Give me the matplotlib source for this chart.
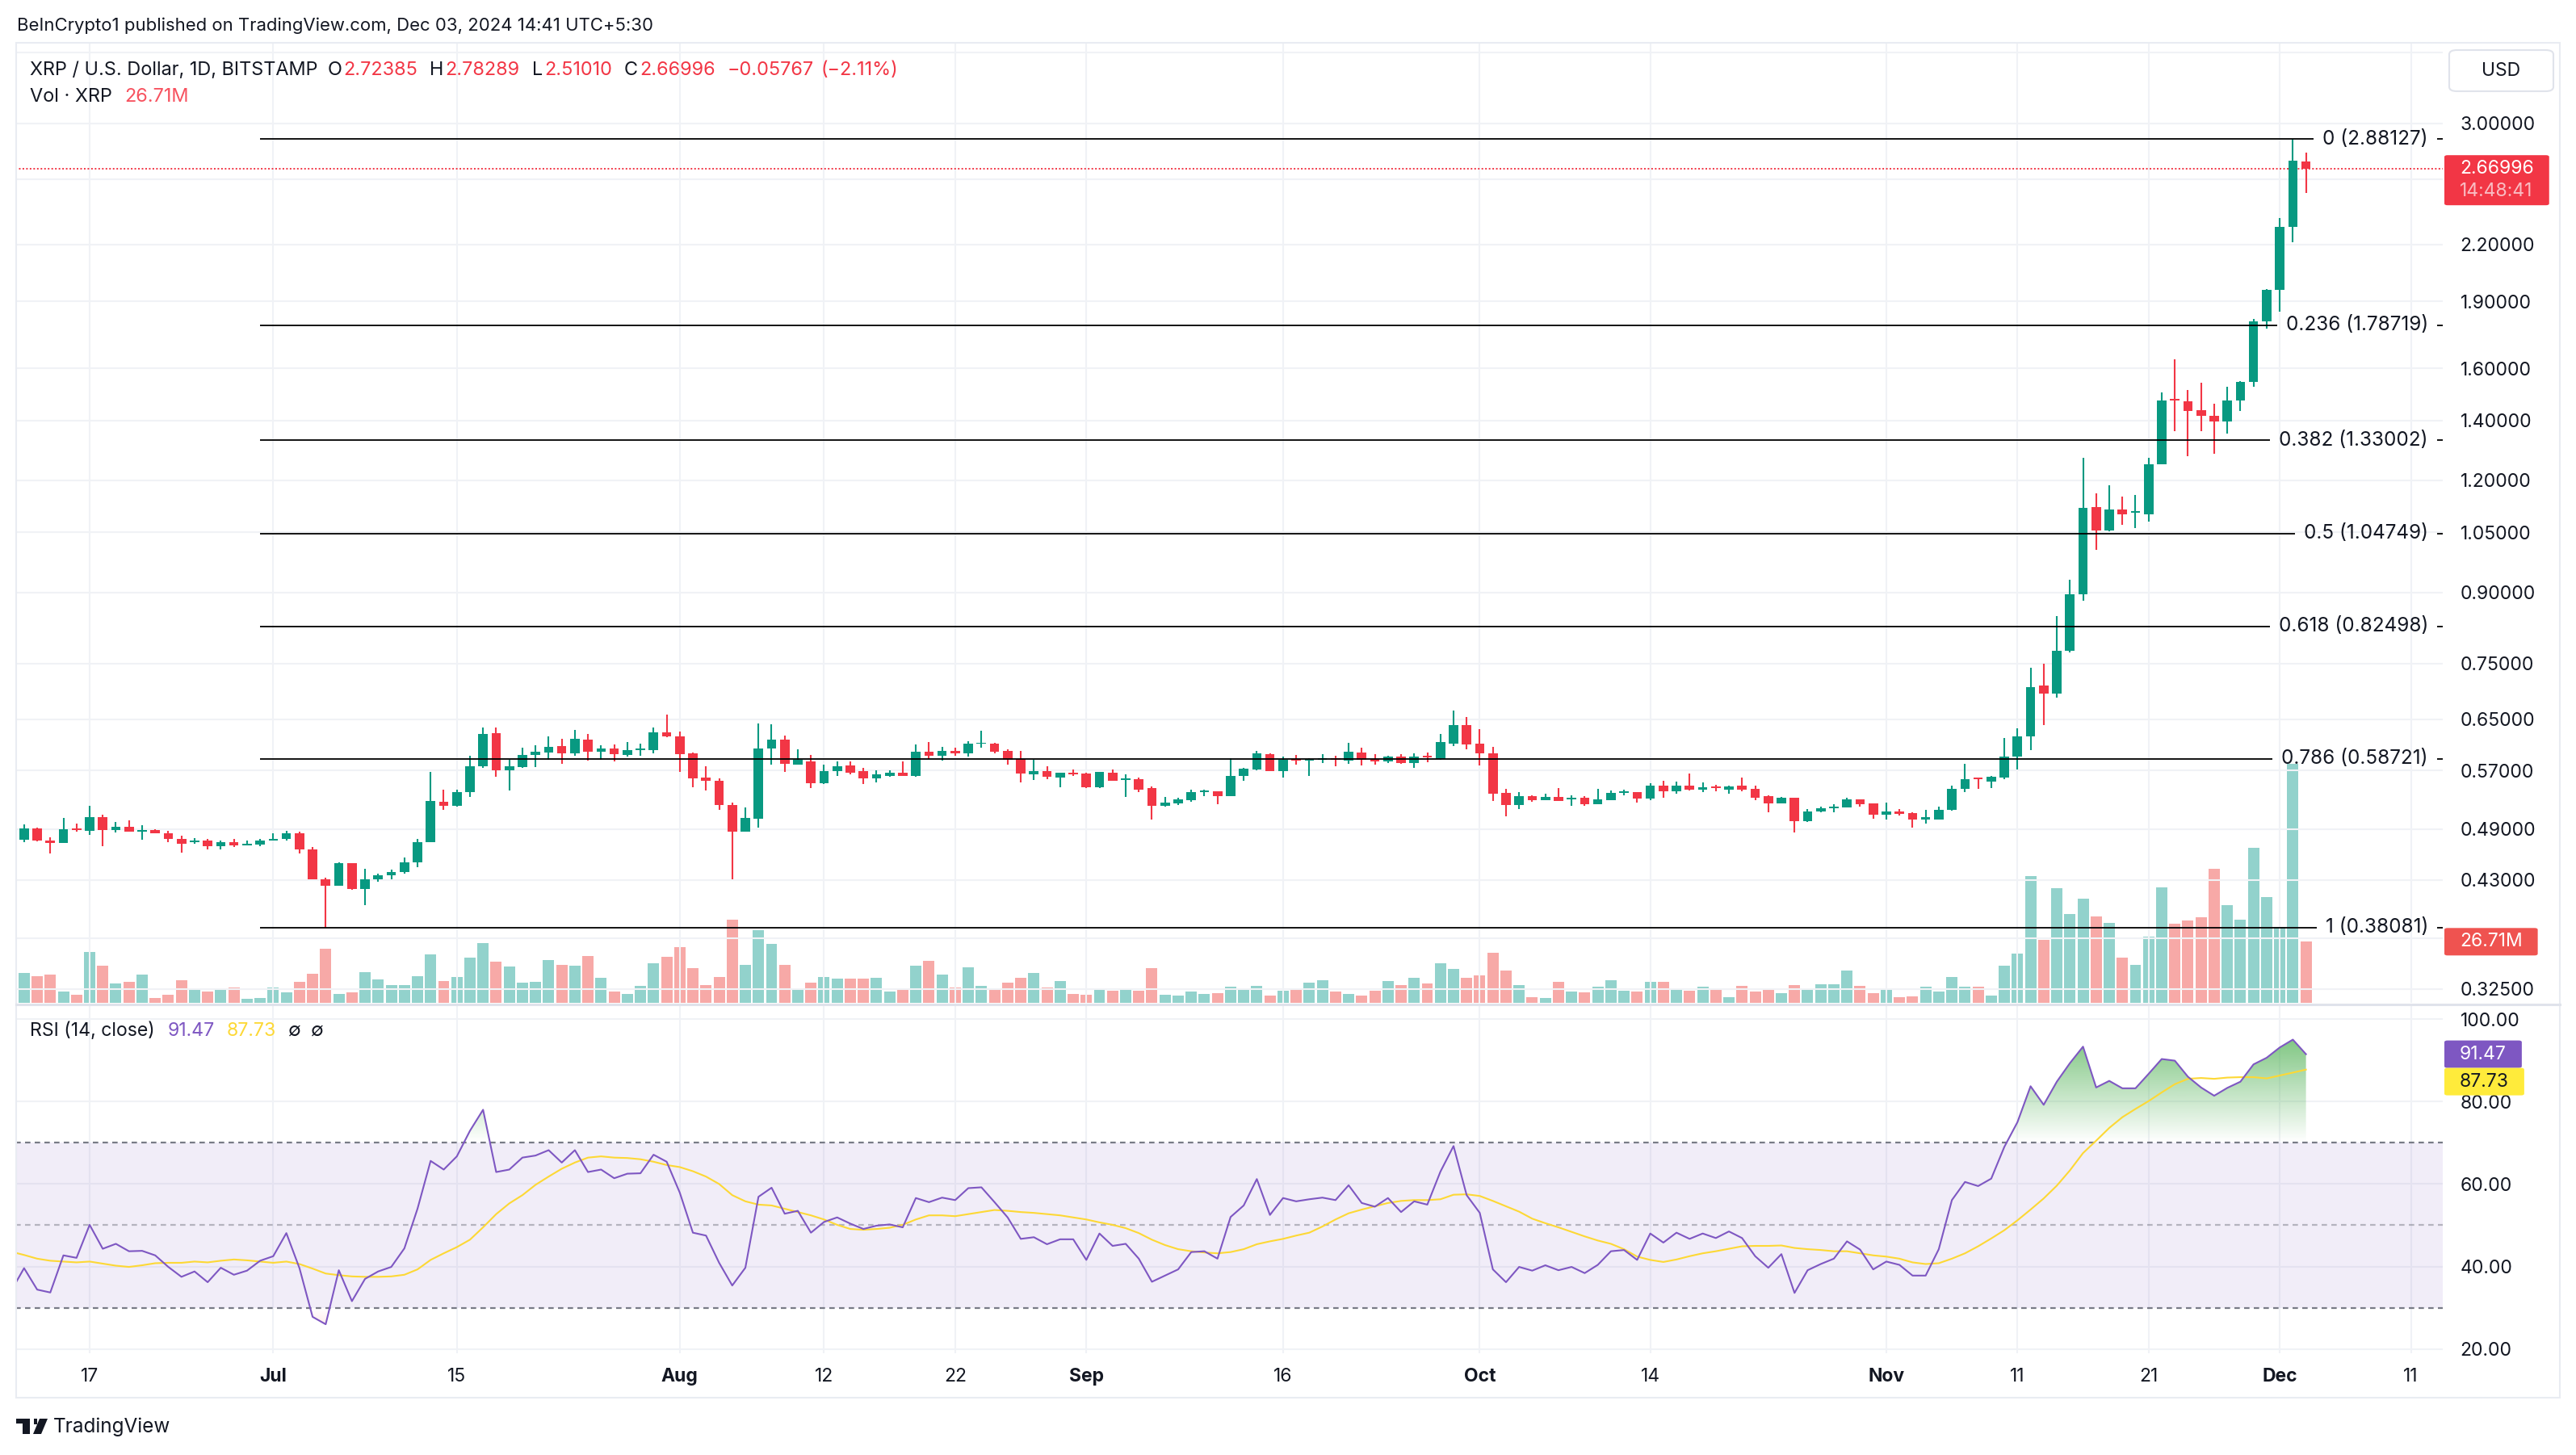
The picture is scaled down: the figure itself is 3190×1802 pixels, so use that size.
import numpy as np
import pandas as pd
import matplotlib
matplotlib.use("Agg")
import matplotlib.pyplot as plt
from matplotlib.patches import FancyBboxPatch, Rectangle, Polygon
from matplotlib.path import Path
from matplotlib.lines import Line2D
from matplotlib.ticker import FixedLocator, FixedFormatter, NullLocator

plt.rcParams['font.family'] = ['Inter', 'DejaVu Sans']

# ---------------------------------------------------------------- data
dates = pd.date_range('2024-06-11', '2024-12-03', freq='D')

opens = [
    0.4966, 0.4773, 0.4910, 0.4758, 0.4731, 0.4914, 0.4880, 0.5050, 0.4893, 0.4931, 0.4870, 0.4893, 0.4852, 0.4780, 0.4735, 0.4758, 0.4687, 0.4742, 0.4700, 0.4710,
    0.4758, 0.4777, 0.4848, 0.4655, 0.4310, 0.4241, 0.4488, 0.4203, 0.4310, 0.4355, 0.4386, 0.4497, 0.4742, 0.5260, 0.5199, 0.5395, 0.5758, 0.6270, 0.5697, 0.5750, 0.5930, 0.5965, 0.6065, 0.5953, 0.6163, 0.5977, 0.6024, 0.5930, 0.5999, 0.6000, 0.6280,
    0.6224, 0.5953, 0.5597, 0.5550, 0.5218, 0.4871, 0.5035, 0.6030, 0.6163, 0.5789, 0.5834, 0.5517, 0.5690, 0.5773, 0.5690, 0.5585, 0.5620, 0.5667, 0.5620, 0.5977, 0.5916, 0.5989, 0.5953, 0.6098, 0.6110, 0.5989, 0.5870, 0.5643, 0.5690, 0.5597, 0.5667,
    0.5655, 0.5459, 0.5667, 0.5562, 0.5574, 0.5448, 0.5199, 0.5240, 0.5280, 0.5391, 0.5403, 0.5337, 0.5620, 0.5714, 0.5943, 0.5690, 0.5870, 0.5846, 0.5858, 0.5882, 0.5846, 0.5965, 0.5870, 0.5834, 0.5906, 0.5811, 0.5916, 0.5870, 0.6110, 0.6406,
    0.6098, 0.5953, 0.5381, 0.5210, 0.5337, 0.5283, 0.5325, 0.5295, 0.5314, 0.5230, 0.5283, 0.5381, 0.5391, 0.5303, 0.5482, 0.5403, 0.5482, 0.5425, 0.5471, 0.5425, 0.5482, 0.5437, 0.5337, 0.5241, 0.5314, 0.5003, 0.5128, 0.5167, 0.5185, 0.5288, 0.5236,
    0.5088, 0.5133, 0.5105, 0.5021, 0.5027, 0.5150, 0.5436, 0.5586, 0.5540, 0.5600, 0.5900, 0.6221, 0.7087, 0.6935, 0.7747, 0.8949, 1.1212, 1.0550, 1.1139, 1.1040, 1.1000, 1.2510, 1.4770, 1.4700, 1.4365, 1.4150, 1.3965, 1.4720, 1.5460, 1.8060,
    1.9570, 2.3007, 2.72385]

highs = [
    0.5000, 0.4965, 0.4915, 0.4800, 0.5041, 0.4974, 0.5207, 0.5088, 0.4997, 0.5015, 0.4951, 0.4895, 0.4880, 0.4818, 0.4790, 0.4780, 0.4758, 0.4780, 0.4758, 0.4777,
    0.4848, 0.4880, 0.4865, 0.4684, 0.4330, 0.4498, 0.4492, 0.4427, 0.4372, 0.4420, 0.4553, 0.4777, 0.5671, 0.5418, 0.5418, 0.5914, 0.6366, 0.6366, 0.5858, 0.6039, 0.6075, 0.6224, 0.6174, 0.6328, 0.6260, 0.6075, 0.6086, 0.6134, 0.6110, 0.6366, 0.6581,
    0.6299, 0.5960, 0.5760, 0.5585, 0.5247, 0.5180, 0.6433, 0.6419, 0.6236, 0.6015, 0.5930, 0.5789, 0.5834, 0.5834, 0.5738, 0.5702, 0.5702, 0.5834, 0.6086, 0.6134, 0.6050, 0.6039, 0.6146, 0.6315, 0.6122, 0.6015, 0.5989, 0.5858, 0.5762, 0.5670, 0.5714,
    0.5660, 0.5680, 0.5714, 0.5643, 0.5597, 0.5471, 0.5325, 0.5310, 0.5425, 0.5425, 0.5405, 0.5882, 0.5738, 0.5989, 0.5950, 0.5906, 0.5930, 0.5875, 0.5943, 0.5916, 0.6122, 0.6039, 0.5943, 0.5916, 0.5943, 0.5953, 0.5965, 0.6260, 0.6648, 0.6541,
    0.6341, 0.6050, 0.5437, 0.5391, 0.5345, 0.5368, 0.5448, 0.5345, 0.5337, 0.5437, 0.5414, 0.5425, 0.5395, 0.5517, 0.5550, 0.5539, 0.5655, 0.5528, 0.5494, 0.5482, 0.5597, 0.5482, 0.5340, 0.5325, 0.5315, 0.5156, 0.5190, 0.5224, 0.5311, 0.5295, 0.5240,
    0.5247, 0.5161, 0.5117, 0.5150, 0.5190, 0.5478, 0.5792, 0.5594, 0.5618, 0.6193, 0.6343, 0.7410, 0.7491, 0.8474, 0.9300, 1.2706, 1.1611, 1.1856, 1.1510, 1.1553, 1.2706, 1.5031, 1.6360, 1.5150, 1.5410, 1.4605, 1.5260, 1.5480, 1.8160, 1.9600,
    2.3540, 2.88127, 2.78289]

lows = [
    0.4750, 0.4744, 0.4750, 0.4600, 0.4728, 0.4870, 0.4830, 0.4693, 0.4860, 0.4865, 0.4773, 0.4846, 0.4742, 0.4616, 0.4720, 0.4655, 0.4655, 0.4684, 0.4697, 0.4694,
    0.4755, 0.4755, 0.4606, 0.4305, 0.38081, 0.4235, 0.4195, 0.4033, 0.4278, 0.4310, 0.4375, 0.4446, 0.4738, 0.5146, 0.5190, 0.5318, 0.5740, 0.5608, 0.5407, 0.5740, 0.5750, 0.5858, 0.5799, 0.5916, 0.5845, 0.5858, 0.5834, 0.5906, 0.5916, 0.5953, 0.6210,
    0.5676, 0.5459, 0.5407, 0.5146, 0.4307, 0.4865, 0.4921, 0.5789, 0.5676, 0.5780, 0.5448, 0.5505, 0.5620, 0.5643, 0.5505, 0.5528, 0.5610, 0.5615, 0.5609, 0.5870, 0.5845, 0.5916, 0.5906, 0.6039, 0.5953, 0.5789, 0.5528, 0.5562, 0.5574, 0.5459, 0.5620,
    0.5448, 0.5448, 0.5545, 0.5325, 0.5391, 0.5024, 0.5195, 0.5210, 0.5258, 0.5337, 0.5230, 0.5330, 0.5550, 0.5702, 0.5685, 0.5597, 0.5789, 0.5620, 0.5811, 0.5762, 0.5799, 0.5773, 0.5789, 0.5811, 0.5800, 0.5738, 0.5822, 0.5858, 0.6062, 0.6015,
    0.5773, 0.5272, 0.5066, 0.5161, 0.5258, 0.5280, 0.5270, 0.5207, 0.5207, 0.5225, 0.5280, 0.5348, 0.5247, 0.5283, 0.5314, 0.5370, 0.5414, 0.5391, 0.5403, 0.5370, 0.5403, 0.5283, 0.5122, 0.5240, 0.4863, 0.4989, 0.5120, 0.5122, 0.5180, 0.5190, 0.5038,
    0.5027, 0.5077, 0.4923, 0.4967, 0.5020, 0.5140, 0.5388, 0.5430, 0.5448, 0.5569, 0.5716, 0.6002, 0.6408, 0.6867, 0.7713, 0.8802, 1.0049, 1.0540, 1.0706, 1.0612, 1.0799, 1.2500, 1.3630, 1.2760, 1.3610, 1.2850, 1.3540, 1.4340, 1.5270, 1.7710,
    1.8520, 2.2120, 2.51010]

closes = [
    0.4773, 0.4910, 0.4758, 0.4731, 0.4901, 0.4893, 0.5055, 0.4893, 0.4931, 0.4870, 0.4893, 0.4852, 0.4780, 0.4722, 0.4758, 0.4687, 0.4742, 0.4697, 0.4722, 0.4758,
    0.4777, 0.4848, 0.4655, 0.4310, 0.4241, 0.4488, 0.4203, 0.4310, 0.4355, 0.4386, 0.4497, 0.4742, 0.5272, 0.5199, 0.5395, 0.5758, 0.6258, 0.5697, 0.5756, 0.5930, 0.5977, 0.6059, 0.5953, 0.6174, 0.5977, 0.6024, 0.5943, 0.5999, 0.6024, 0.6280, 0.6214,
    0.5943, 0.5585, 0.5550, 0.5218, 0.4871, 0.5043, 0.6030, 0.6163, 0.5799, 0.5858, 0.5517, 0.5690, 0.5762, 0.5667, 0.5585, 0.5643, 0.5667, 0.5620, 0.5977, 0.5916, 0.5989, 0.5953, 0.6098, 0.6122, 0.5977, 0.5858, 0.5655, 0.5690, 0.5609, 0.5667, 0.5643,
    0.5459, 0.5678, 0.5550, 0.5585, 0.5425, 0.5199, 0.5247, 0.5290, 0.5391, 0.5414, 0.5337, 0.5620, 0.5726, 0.5953, 0.5690, 0.5858, 0.5846, 0.5870, 0.5882, 0.5858, 0.5977, 0.5858, 0.5834, 0.5906, 0.5811, 0.5906, 0.5894, 0.6134, 0.6406, 0.6086,
    0.5953, 0.5370, 0.5210, 0.5337, 0.5283, 0.5325, 0.5272, 0.5314, 0.5230, 0.5291, 0.5381, 0.5403, 0.5303, 0.5482, 0.5403, 0.5482, 0.5425, 0.5459, 0.5448, 0.5471, 0.5425, 0.5314, 0.5241, 0.5314, 0.5003, 0.5128, 0.5167, 0.5195, 0.5288, 0.5230, 0.5088,
    0.5133, 0.5100, 0.5021, 0.5055, 0.5150, 0.5436, 0.5569, 0.5569, 0.5606, 0.5900, 0.6221, 0.7056, 0.6935, 0.7747, 0.8949, 1.1187, 1.0550, 1.1139, 1.0989, 1.1090, 1.2510, 1.4738, 1.4720, 1.4330, 1.4160, 1.3965, 1.4720, 1.5460, 1.8060, 1.9570,
    2.3007, 2.72763, 2.66996]

volumes_m = [
    16.6, 13.1, 11.6, 12.3, 4.9, 3.5, 22.2, 16.2, 8.5, 9.2, 12.3, 2.1, 3.5, 9.9, 5.6, 4.9, 5.6, 6.7, 1.8, 2.1,
    6.7, 4.6, 9.2, 12.7, 23.6, 3.9, 4.6, 13.4, 10.2, 7.8, 7.8, 11.6, 21.2, 9.5, 11.3, 19.8, 26.1, 18.0, 15.9, 8.8, 9.2, 18.7, 16.6, 16.2, 20.5, 10.9, 4.9, 3.9, 7.4, 17.3, 20.1,
    24.3, 15.2, 7.8, 11.3, 36.3, 16.6, 31.8, 25.8, 16.6, 5.6, 8.8, 11.3, 10.6, 10.6, 10.6, 10.9, 4.9, 6.4, 16.2, 18.3, 12.3, 6.7, 15.5, 7.4, 5.6, 8.8, 10.9, 13.1, 6.7, 9.5, 3.9,
    3.5, 5.6, 5.3, 6.0, 5.3, 15.2, 3.5, 3.2, 4.9, 3.9, 4.2, 7.1, 6.0, 7.4, 3.2, 5.3, 5.6, 8.8, 9.9, 4.9, 3.9, 3.2, 5.3, 9.5, 7.8, 10.9, 8.5, 17.3, 14.8, 10.9,
    12.0, 21.9, 14.1, 7.8, 2.5, 2.1, 9.2, 4.9, 4.6, 7.1, 9.9, 5.3, 4.9, 9.2, 9.2, 6.0, 5.3, 7.1, 5.6, 2.5, 7.4, 4.9, 6.4, 4.2, 7.8, 5.6, 8.2, 8.2, 14.2, 7.5, 4.3,
    5.6, 2.4, 2.8, 7.1, 5.0, 11.3, 7.0, 7.0, 3.2, 16.2, 21.5, 55.4, 27.5, 50.0, 38.8, 45.5, 37.7, 34.9, 19.7, 16.5, 28.9, 50.3, 34.5, 36.0, 37.3, 58.5, 42.7, 36.2, 67.6, 46.1,
    33.2, 104.3, 26.71]

rsi = [
    34.0, 39.6, 34.4, 33.7, 42.7, 42.1, 50.1, 44.3, 45.5, 43.7, 43.8, 42.7, 39.9, 37.5, 38.8, 36.2, 39.7, 38.0, 39.0, 41.4,
    42.5, 48.1, 39.6, 27.8, 26.0, 39.1, 31.6, 37.0, 38.8, 39.9, 44.4, 54.0, 65.6, 63.5, 66.7, 72.9, 78.0, 62.9, 63.5, 66.4, 66.9, 68.2, 65.2, 68.2, 62.9, 63.5, 61.4, 62.5, 62.6, 67.1, 65.4,
    57.9, 48.2, 47.5, 40.9, 35.4, 39.7, 56.9, 59.1, 52.8, 53.5, 48.2, 50.8, 51.9, 50.4, 49.1, 49.9, 50.2, 49.5, 56.6, 55.6, 56.7, 56.1, 59.0, 59.2, 55.6, 51.9, 46.7, 47.1, 45.4, 46.6, 46.6,
    41.6, 48.0, 45.0, 45.5, 41.9, 36.3, 37.8, 39.3, 43.5, 43.7, 41.9, 52.0, 54.8, 61.2, 52.5, 56.6, 55.8, 56.3, 56.7, 56.1, 59.7, 55.4, 54.5, 56.6, 53.2, 55.8, 55.0, 63.0, 69.2, 57.3,
    53.0, 39.3, 36.2, 39.9, 39.0, 40.3, 39.1, 39.9, 38.4, 40.4, 43.7, 44.0, 41.6, 48.0, 45.8, 48.2, 46.7, 48.0, 46.9, 48.5, 46.9, 42.5, 39.7, 43.0, 33.6, 39.1, 40.6, 41.9, 46.1, 44.1, 39.3,
    41.2, 40.4, 37.8, 37.8, 44.2, 56.1, 60.5, 59.5, 61.3, 69.0, 75.0, 83.7, 79.2, 84.8, 89.3, 93.3, 83.4, 85.0, 83.2, 83.2, 86.7, 90.3, 89.9, 86.0, 83.4, 81.4, 83.3, 84.8, 89.0, 90.6,
    93.1, 95.0, 91.47]

rsi_ma = [
    43.6, 42.8, 41.9, 41.4, 41.2, 41.0, 41.2, 40.7, 40.2, 39.9, 40.3, 40.8, 40.9, 40.9, 41.2, 41.0, 41.4, 41.7, 41.5, 41.2,
    40.9, 41.2, 40.6, 39.5, 38.3, 37.9, 37.6, 37.5, 37.5, 37.6, 38.0, 39.3, 41.6, 43.2, 44.7, 46.5, 49.5, 52.7, 55.3, 57.3, 59.8, 61.8, 63.7, 65.2, 66.4, 66.7, 66.4, 66.3, 66.0, 65.4, 64.6,
    64.1, 63.1, 61.8, 60.0, 57.3, 55.8, 55.0, 54.8, 54.0, 53.2, 52.4, 51.4, 50.1, 49.1, 48.9, 49.1, 49.4, 50.1, 51.4, 52.4, 52.4, 52.2, 52.7, 53.2, 53.7, 53.5, 53.2, 53.0, 52.7, 52.4, 51.9,
    51.4, 50.7, 50.1, 49.3, 48.1, 46.5, 45.2, 44.2, 43.7, 43.4, 43.2, 43.5, 44.2, 45.4, 46.1, 46.7, 47.5, 48.2, 49.7, 51.4, 52.9, 53.8, 54.6, 55.4, 55.9, 56.1, 56.1, 56.3, 57.4, 57.5,
    57.1, 55.9, 54.6, 53.3, 51.6, 50.5, 49.5, 48.4, 47.3, 46.3, 45.5, 44.2, 42.4, 41.6, 41.1, 41.7, 42.5, 43.2, 43.7, 44.3, 44.9, 45.0, 45.0, 45.1, 44.5, 44.2, 44.0, 43.7, 43.7, 43.2, 42.7,
    42.4, 41.9, 41.0, 40.6, 40.8, 41.9, 43.2, 44.9, 46.8, 48.8, 51.2, 53.8, 56.5, 59.6, 63.3, 67.5, 70.5, 73.6, 76.2, 78.2, 80.1, 82.2, 84.2, 85.5, 85.7, 85.5, 85.8, 85.9, 85.9, 85.6,
    86.3, 87.0, 87.73]

fib_ratios = ['0', '0.236', '0.382', '0.5', '0.618', '0.786', '1']
fib_prices = [2.88127, 1.78719, 1.33002, 1.04749, 0.82498, 0.58721, 0.38081]
fib_start = '2024-06-30'

# price scale ticks; the ones hidden behind tags / the USD button carry no label
price_ticks = [0.325, 0.37, 0.43, 0.49, 0.57, 0.65, 0.75, 0.90, 1.05, 1.20, 1.40, 1.60, 1.90, 2.20, 2.60, 3.00, 3.60]
price_hidden = [0.37, 2.60, 3.60]
rsi_ticks = [20, 40, 60, 80, 100]
rsi_levels = [70, 50, 30]
time_ticks = ['2024-06-17', '2024-07-01', '2024-07-15', '2024-08-01', '2024-08-12', '2024-08-22', '2024-09-01',
              '2024-09-16', '2024-10-01', '2024-10-14', '2024-11-01', '2024-11-11', '2024-11-21', '2024-12-01', '2024-12-11']
time_labels = ['17', 'Jul', '15', 'Aug', '12', '22', 'Sep', '16', 'Oct', '14', 'Nov', '11', '21', 'Dec', '11']
month_labels = {'Jul', 'Aug', 'Sep', 'Oct', 'Nov', 'Dec'}

countdown = '14:48:41'
publish_text = 'BeInCrypto1 published on TradingView.com, Dec 03, 2024 14:41 UTC+5:30'
symbol_text = 'XRP / U.S. Dollar, 1D, BITSTAMP'

# ---------------------------------------------------------------- style
UP, DN = '#089981', '#F23645'
VUP, VDN = '#92D2CC', '#F7A9A7'
GRID = '#F0F2F6'
TXT = '#131722'
PURPLE, YELLOW = '#7E57C2', '#FDD835'

W, H = 3190, 1802
fig = plt.figure(figsize=(W / 100, H / 100), dpi=100, facecolor='white')


def fx(px):
    return px / W


def fy(py):
    return 1 - py / H


PANE_L, PANE_R = 19, 3025
P_TOP, P_BOT = 53, 1242
R_TOP, R_BOT = 1245, 1676
X_LO, X_HI = 0.335, 185.43
AX_FS = 16.5

o = np.array(opens); h = np.array(highs); l = np.array(lows); c = np.array(closes)
vol = np.array(volumes_m)
r_arr = np.array(rsi); ma_arr = np.array(rsi_ma)
x = np.arange(len(dates))
up = c >= o


def idx(d):
    return (pd.Timestamp(d) - dates[0]).days


tick_idx = [idx(t) for t in time_ticks]

rect_p = [fx(PANE_L), fy(P_BOT), (PANE_R - PANE_L) / W, (P_BOT - P_TOP) / H]
ax_v = fig.add_axes(rect_p)
ax_p = fig.add_axes(rect_p)
ax_r = fig.add_axes([fx(PANE_L), fy(R_BOT), (PANE_R - PANE_L) / W, (R_BOT - R_TOP) / H])
ax_p.set_facecolor('none')

# ---- volume overlay
ax_v.bar(x, vol, width=0.86, color=np.where(up, VUP, VDN), linewidth=0)
ax_v.set_xlim(X_LO, X_HI)
ax_v.set_ylim(0, 419.6)
ax_v.axis('off')

# ---- price pane
ax_p.set_yscale('log')
ax_p.set_xlim(X_LO, X_HI)
ax_p.set_ylim(0.31374, 3.691)
ax_p.yaxis.set_major_locator(FixedLocator(price_ticks))
ax_p.yaxis.set_major_formatter(FixedFormatter(['' if v in price_hidden else f'{v:.5f}' for v in price_ticks]))
ax_p.yaxis.set_minor_locator(NullLocator())
ax_p.set_xticks(tick_idx)
ax_p.tick_params(axis='x', length=0, labelbottom=False)
ax_p.tick_params(axis='y', which='both', length=0, pad=15.5, labelsize=AX_FS, labelcolor=TXT,
                 left=False, right=True, labelleft=False, labelright=True)
ax_p.grid(True, color=GRID, lw=1.5)
ax_p.set_axisbelow(True)

col = np.where(up, UP, DN)
ax_p.vlines(x, l, h, colors=col, lw=1.5, zorder=3)
bot = np.minimum(o, c)
bh = np.maximum(np.abs(c - o), bot * 0.004)
ax_p.bar(x, bh, bottom=bot, width=0.72, color=col, linewidth=0, zorder=4)

ax_p.axhline(closes[-1], color=DN, lw=1.4, ls=(0, (1, 1.3)), zorder=2)

fig.canvas.draw()
rend = fig.canvas.get_renderer()

fs_i = idx(fib_start)
inv = ax_p.transData.inverted()
for rr, pp in zip(fib_ratios, fib_prices):
    t = ax_p.text(0.994, pp, f'{rr} ({pp:.5f})', transform=ax_p.get_yaxis_transform(),
                  ha='right', va='center', fontsize=17.5, color=TXT, zorder=7)
    bb = t.get_window_extent(rend)
    xl = inv.transform((bb.x0 - 11, 0))[0]
    xr = inv.transform((bb.x1 + 11, 0))[0]
    ax_p.hlines(pp, fs_i, xl, color='black', lw=1.3, zorder=6)
    ax_p.hlines(pp, xr, X_HI, color='black', lw=1.3, zorder=6)

for s in list(ax_p.spines.values()) + list(ax_r.spines.values()):
    s.set_visible(False)

# ---- RSI pane
ax_r.set_xlim(X_LO, X_HI)
ax_r.set_ylim(18.97, 103.33)
ax_r.axhspan(30, 70, color=PURPLE, alpha=0.1, lw=0, zorder=1)
ax_r.axhline(70, color='#787B86', lw=1.6, ls=(0, (3, 2.4)), zorder=2)
ax_r.axhline(50, color='#787B86', alpha=0.5, lw=1.6, ls=(0, (3, 2.4)), zorder=2)
ax_r.axhline(30, color='#787B86', lw=1.6, ls=(0, (3, 2.4)), zorder=2)


def gradient_fill(ax, y, level, top, rgb, where):
    poly = ax.fill_between(x, y, level, where=where, interpolate=True, color='none', lw=0)
    paths = poly.get_paths()
    poly.remove()
    if not paths:
        return
    cp = Path.make_compound_path(*paths)
    n = 256
    g = np.zeros((n, 1, 4))
    g[:, 0, 0], g[:, 0, 1], g[:, 0, 2] = rgb
    lo, hi = min(level, top), max(level, top)
    a = np.linspace(0, 1, n)
    g[:, 0, 3] = 0.85 * (a if top > level else a[::-1])
    im = ax.imshow(g, extent=[X_LO, X_HI, lo, hi], origin='lower', aspect='auto', zorder=3,
                   interpolation='bilinear')
    im.set_clip_path(cp, transform=ax.transData)


gradient_fill(ax_r, r_arr, 70, 100, (76 / 255, 175 / 255, 80 / 255), r_arr > 70)
gradient_fill(ax_r, r_arr, 30, 0, (255 / 255, 82 / 255, 82 / 255), r_arr < 30)
ax_r.set_xlim(X_LO, X_HI)
ax_r.set_ylim(18.97, 103.33)

ax_r.plot(x, ma_arr, color=YELLOW, lw=1.5, zorder=4)
ax_r.plot(x, r_arr, color=PURPLE, lw=1.5, zorder=5)

ax_r.set_yticks(rsi_ticks)
ax_r.set_yticklabels([f'{v:.2f}' for v in rsi_ticks])
ax_r.set_xticks(tick_idx)
ax_r.set_xticklabels(time_labels)
for lab in ax_r.get_xticklabels():
    if lab.get_text() in month_labels:
        lab.set_fontweight('bold')
ax_r.tick_params(axis='y', length=0, pad=15.5, labelsize=AX_FS, labelcolor=TXT,
                 left=False, right=True, labelleft=False, labelright=True)
ax_r.tick_params(axis='x', length=0, pad=13, labelsize=AX_FS, labelcolor=TXT)
ax_r.grid(True, color=GRID, lw=1.5)
ax_r.set_axisbelow(True)

fig.canvas.draw()
rend = fig.canvas.get_renderer()


def ytd(ax, xv, val):
    return H - ax.transData.transform((xv, val))[1]


def box(x0, y0, x1, y1, fc, ec='none', lw=0, rs=0.0012):
    fig.add_artist(FancyBboxPatch((fx(x0), fy(y1)), (x1 - x0) / W, (y1 - y0) / H,
                                  boxstyle=f'round,pad=0,rounding_size={rs}',
                                  transform=fig.transFigure, fc=fc, ec=ec, lw=lw, zorder=5))


def ftext(xp, yp, s, **kw):
    kw.setdefault('fontsize', AX_FS)
    kw.setdefault('color', TXT)
    kw.setdefault('va', 'center')
    kw.setdefault('ha', 'left')
    return fig.text(fx(xp), fy(yp), s, zorder=6, **kw)


def text_w(s, fs):
    t = fig.text(0, 0, s, fontsize=fs)
    w = t.get_window_extent(rend).width
    t.remove()
    return w


TAG_X0, TAG_TX = 3027, 3046

# price tag
yc = ytd(ax_p, X_LO, closes[-1])
pstr = f'{closes[-1]:.5f}'
wpx = max(text_w(pstr, AX_FS), text_w(countdown, AX_FS)) + 2 * (TAG_TX - TAG_X0)
box(TAG_X0, yc - 17, TAG_X0 + wpx, yc + 45, DN)
ftext(TAG_TX, yc, pstr, color='white')
ftext(TAG_TX, yc + 28, countdown, color='#F9BCC2')

# volume tag
yv = ytd(ax_v, X_LO, vol[-1])
vstr = f'{vol[-1]:.2f}M'
box(TAG_X0, yv - 17, TAG_X0 + text_w(vstr, AX_FS) + 38, yv + 17, '#EF5350')
ftext(TAG_TX, yv, vstr, color='white')

# RSI tags
yr = ytd(ax_r, X_LO, r_arr[-1])
rstr = f'{r_arr[-1]:.2f}'
wr = text_w(rstr, AX_FS) + 38
box(TAG_X0, yr - 17, TAG_X0 + wr, yr + 17, PURPLE)
ftext(TAG_TX, yr, rstr, color='white')
ym = max(ytd(ax_r, X_LO, ma_arr[-1]), yr + 34)
mstr = f'{ma_arr[-1]:.2f}'
box(TAG_X0, ym - 17, TAG_X0 + text_w(mstr, AX_FS) + 38, ym + 17, '#FFEB3B')
ftext(TAG_TX, ym, mstr, color=TXT)

# USD box
box(3033, 62, 3162, 113, 'white', ec='#E0E3EB', lw=1.5, rs=0.003)
ftext(3097, 88, 'USD', ha='center')

# frame and separators
fig.add_artist(Rectangle((fx(20), fy(1731)), (3170 - 20) / W, (1731 - 53) / H, transform=fig.transFigure,
                         fill=False, ec='#E9ECF2', lw=1.5, zorder=4))
fig.add_artist(Line2D([fx(20), fx(3170)], [fy(1243.5), fy(1243.5)], transform=fig.transFigure,
                      color='#E0E3EB', lw=2.2, zorder=4))


# header texts
def seq(xp, yp, parts, fs):
    cx = xp
    for s, color, weight, gap in parts:
        t = ftext(cx, yp, s, color=color, fontweight=weight, fontsize=fs)
        cx += t.get_window_extent(rend).width + gap


ftext(21, 32, publish_text, fontsize=15.9)

chg = closes[-1] - closes[-2]
pct = chg / closes[-2] * 100
fmt = lambda v: f'{v:.5f}'.replace('-', '\u2212')
seq(37, 87, [
    (symbol_text, TXT, 'normal', 12),
    ('O', TXT, 'normal', 2), (fmt(opens[-1]), DN, 'normal', 15),
    ('H', TXT, 'normal', 2), (fmt(highs[-1]), DN, 'normal', 15),
    ('L', TXT, 'normal', 2), (fmt(lows[-1]), DN, 'normal', 15),
    ('C', TXT, 'normal', 2), (fmt(closes[-1]), DN, 'normal', 15),
    (fmt(chg), DN, 'normal', 9),
    (f'({pct:.2f}%)'.replace('-', '\u2212'), DN, 'normal', 0)], 16.9)
seq(37, 120, [('Vol \u00b7 XRP', TXT, 'normal', 15), (vstr, '#F7525F', 'normal', 0)], 16.9)
seq(37, 1277, [('RSI (14, close)', TXT, 'normal', 16), (rstr, PURPLE, 'normal', 15),
               (mstr, YELLOW, 'normal', 15), ('\u2205', TXT, 'normal', 12), ('\u2205', TXT, 'normal', 0)], 16.6)

# TradingView logo
logo = TXT
fig.add_artist(Rectangle((fx(20), fy(1763)), 17 / W, 6 / H, transform=fig.transFigure, fc=logo, ec='none'))
fig.add_artist(Rectangle((fx(28), fy(1776)), 9 / W, 19 / H, transform=fig.transFigure, fc=logo, ec='none'))
fig.add_artist(Polygon([(fx(41.5), fy(1757)), (fx(46), fy(1757)), (fx(46), fy(1764)), (fx(41.5), fy(1764))],
                       closed=True, transform=fig.transFigure, fc=logo, ec='none'))
fig.add_artist(Polygon([(fx(49), fy(1757)), (fx(59), fy(1757)), (fx(51), fy(1776)), (fx(41), fy(1776))],
                       closed=True, transform=fig.transFigure, fc=logo, ec='none'))
ftext(66, 1767, 'TradingView', fontsize=17.5)

fig.savefig('out.png', dpi=100, facecolor='white')
